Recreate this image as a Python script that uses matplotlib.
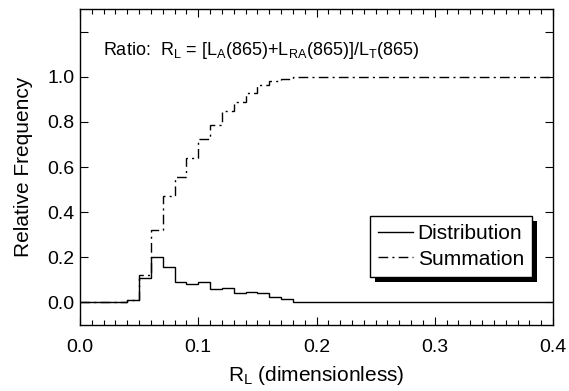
import matplotlib
matplotlib.use('Agg')
import matplotlib.pyplot as plt
from matplotlib.ticker import MultipleLocator, FixedLocator, FixedFormatter
from matplotlib.patches import Rectangle

plt.rcParams['font.family'] = ['Liberation Sans', 'DejaVu Sans']
plt.rcParams['mathtext.fontset'] = 'custom'
plt.rcParams['mathtext.rm'] = 'Liberation Sans'
plt.rcParams['mathtext.it'] = 'Liberation Sans:italic'
plt.rcParams['lines.scale_dashes'] = False

# ---- data ----
dist_edges = [0.00, 0.04, 0.05, 0.06, 0.07, 0.08, 0.09, 0.10, 0.11, 0.12,
              0.13, 0.14, 0.15, 0.16, 0.17, 0.18, 0.20, 0.40]
dist_values = [0.0, 0.01, 0.11, 0.20, 0.155, 0.09, 0.08, 0.09, 0.06, 0.065,
               0.043, 0.046, 0.04, 0.022, 0.015, 0.004, 0.0]

sum_edges = [0.00, 0.04, 0.05, 0.06, 0.07, 0.08, 0.09, 0.10, 0.11, 0.12,
             0.13, 0.14, 0.15, 0.16, 0.17, 0.18, 0.40]
sum_values = [0.0, 0.01, 0.12, 0.32, 0.47, 0.555, 0.64, 0.725, 0.785, 0.85,
              0.887, 0.928, 0.965, 0.98, 0.99, 1.0]

y_ticks = [0.0, 0.2, 0.4, 0.6, 0.8, 1.0, 1.2]
y_tick_labels = ['0.0', '0.2', '0.4', '0.6', '0.8', '1.0', '']
x_ticks = [0.0, 0.1, 0.2, 0.3, 0.4]
x_tick_labels = ['0.0', '0.1', '0.2', '0.3', '0.4']

fig = plt.figure(figsize=(5.69, 3.91), dpi=100)
ax = fig.add_axes([80/569, 66/391, 473/569, 316/391])

ax.stairs(dist_values, dist_edges, baseline=None, color='black', lw=1.0,
          label='Distribution')
ax.stairs(sum_values, sum_edges, baseline=None, color='black', lw=1.0,
          linestyle=(0, (7, 3, 1.5, 3)), label='Summation')

ax.set_xlim(0, 0.4)
ax.set_ylim(-0.1, 1.3)

ax.xaxis.set_major_locator(FixedLocator(x_ticks))
ax.xaxis.set_major_formatter(FixedFormatter(x_tick_labels))
ax.xaxis.set_minor_locator(MultipleLocator(0.01))
ax.yaxis.set_major_locator(FixedLocator(y_ticks))
ax.yaxis.set_major_formatter(FixedFormatter(y_tick_labels))

ax.tick_params(which='both', direction='in', top=True, right=True,
               labelsize=14, width=0.8)
ax.tick_params(which='major', length=6)
ax.tick_params(which='minor', length=3.5)
ax.tick_params(axis='x', pad=10)
ax.tick_params(axis='y', pad=4)
for s in ax.spines.values():
    s.set_linewidth(1.0)

ax.set_xlabel(r'R$_\mathrm{L}$ (dimensionless)', fontsize=15, labelpad=6)
ax.set_ylabel('Relative Frequency', fontsize=15, labelpad=10)

ax.text(0.0195, 1.097,
        r'Ratio:  R$_\mathrm{L}$ = [L$_\mathrm{A}$(865)+L$_\mathrm{RA}$(865)]/L$_\mathrm{T}$(865)',
        fontsize=13, va='baseline', ha='left')

leg = ax.legend(loc='lower right', bbox_to_anchor=(0.956, 0.152),
                fontsize=15, frameon=True, fancybox=False, edgecolor='black',
                framealpha=1, handlelength=1.7, handletextpad=0.2,
                borderpad=0.4, labelspacing=0.3, borderaxespad=0)
leg.get_frame().set_linewidth(1.0)
fig.canvas.draw()
bb = leg.get_window_extent()
inv = fig.transFigure.inverted()
(x0, y0), (x1, y1) = inv.transform([[bb.x0 + 5, bb.y0 - 5], [bb.x1 + 5, bb.y1 - 5]])
shadow = Rectangle((x0, y0), x1 - x0, y1 - y0, transform=fig.transFigure,
                   facecolor='black', edgecolor='none')
ax.add_artist(shadow)
shadow.set_zorder(leg.get_zorder() - 0.1)

fig.savefig('out.png', dpi=100)
